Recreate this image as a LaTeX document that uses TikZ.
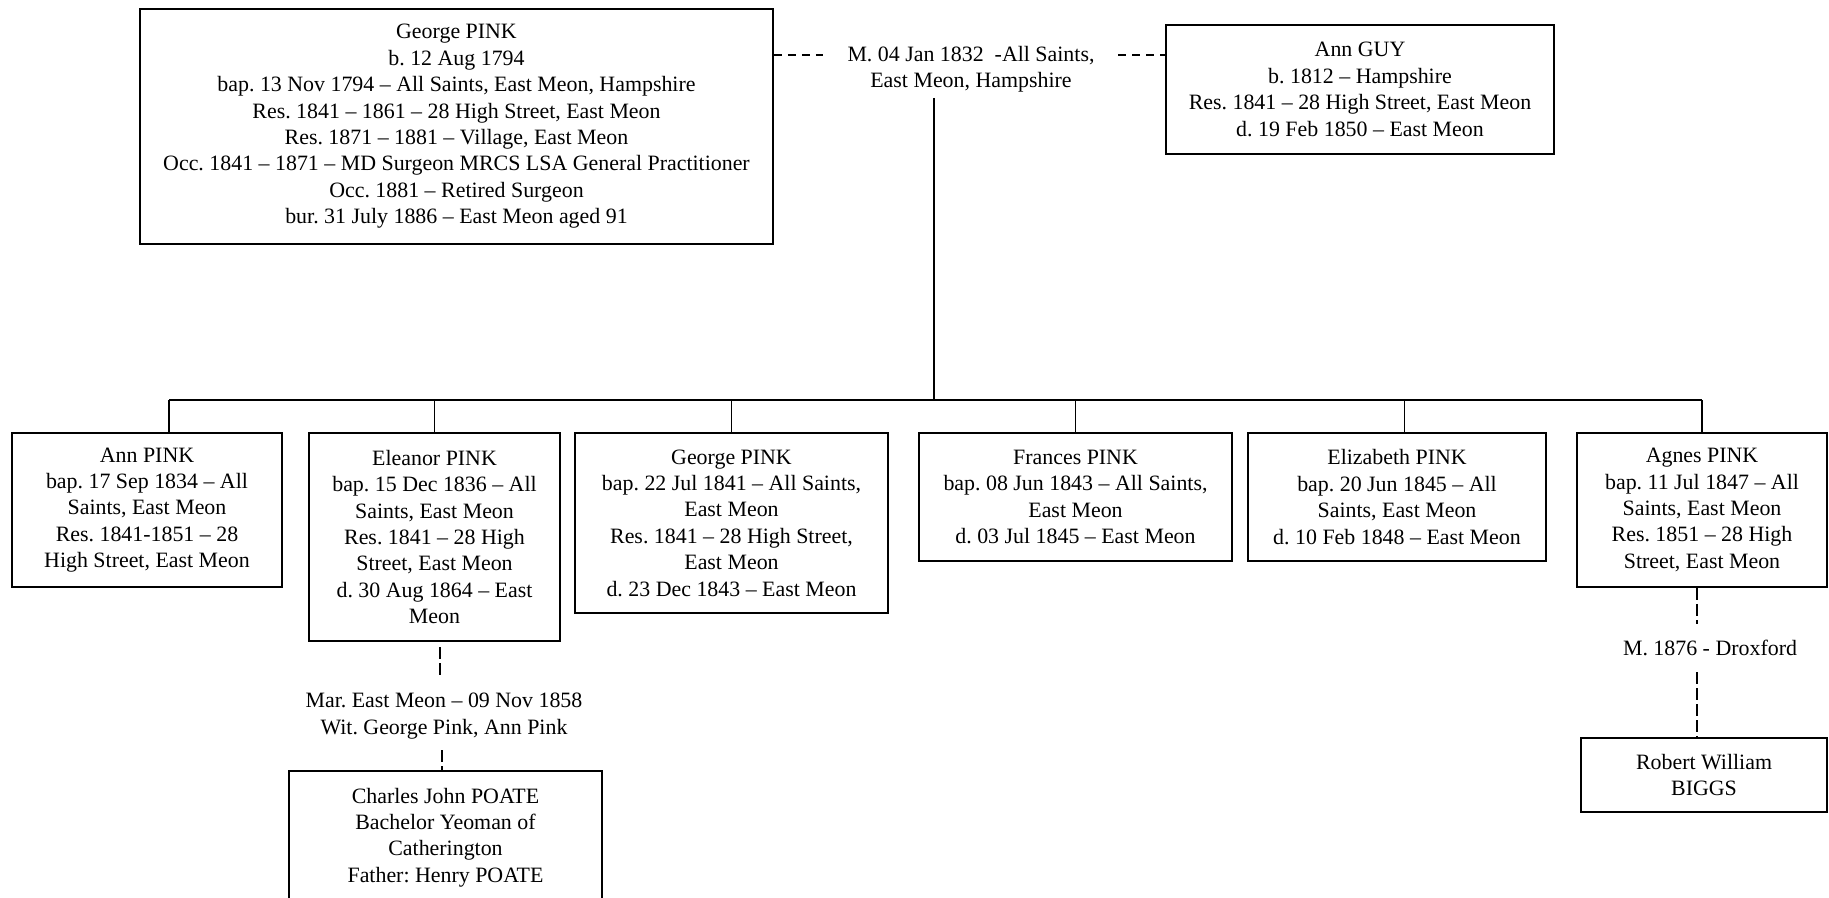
\documentclass[tikz,border=0pt]{standalone}
\usepackage{fontspec}
\setmainfont{Liberation Serif}
\frenchspacing
\newcommand{\treefont}{\fontsize{10.95}{13.2}\selectfont\frenchspacing}
\tikzset{
  person/.style={draw, line width=0.95pt, align=center, inner sep=0pt, font=\treefont},
  lbl/.style={align=center, inner sep=0pt, font=\treefont},
  conn/.style={line width=0.95pt},
  dconn/.style={line width=0.8pt, dash pattern=on 6pt off 2pt},
  hdconn/.style={line width=0.8pt, dash pattern=on 4pt off 3pt}
}
\begin{document}
\begin{tikzpicture}[x=0.5pt, y=-0.5pt]
\useasboundingbox (0,0) rectangle (1829,898);

% top generation
\node[person, minimum width=316.5pt, minimum height=117.5pt] (george) at (456.5,126.5)
 {George PINK\\b. 12 Aug 1794\\bap. 13 Nov 1794 – All Saints, East Meon, Hampshire\\Res. 1841 – 1861 – 28 High Street, East Meon\\Res. 1871 – 1881 – Village, East Meon\\Occ. 1841 – 1871 – MD Surgeon MRCS LSA General Practitioner\\Occ. 1881 – Retired Surgeon\\bur. 31 July 1886 – East Meon aged 91};
\node[person, minimum width=194pt, minimum height=64.25pt] (anngug) at (1360,89.5)
 {Ann GUY\\b. 1812 – Hampshire\\Res. 1841 – 28 High Street, East Meon\\d. 19 Feb 1850 – East Meon};
\node[lbl] (marr) at (971,69) {M. 04 Jan 1832~~-All Saints,\\East Meon, Hampshire};

% children
\node[person, minimum width=135pt, minimum height=77pt] (annpink) at (147,510)
 {Ann PINK\\bap. 17 Sep 1834 – All\\Saints, East Meon\\Res. 1841-1851 – 28\\High Street, East Meon};
\node[person, minimum width=125.5pt, minimum height=104pt] (eleanor) at (434.5,537)
 {Eleanor PINK\\bap. 15 Dec 1836 – All\\Saints, East Meon\\Res. 1841 – 28 High\\Street, East Meon\\d. 30 Aug 1864 – East\\Meon};
\node[person, minimum width=156.5pt, minimum height=90pt] (georgejr) at (731.5,523)
 {George PINK\\bap. 22 Jul 1841 – All Saints,\\East Meon\\Res. 1841 – 28 High Street,\\East Meon\\d. 23 Dec 1843 – East Meon};
\node[person, minimum width=156.5pt, minimum height=64pt] (frances) at (1075.5,497)
 {Frances PINK\\bap. 08 Jun 1843 – All Saints,\\East Meon\\d. 03 Jul 1845 – East Meon};
\node[person, minimum width=148.75pt, minimum height=64pt] (elizabeth) at (1397,497)
 {Elizabeth PINK\\bap. 20 Jun 1845 – All\\Saints, East Meon\\d. 10 Feb 1848 – East Meon};
\node[person, minimum width=125pt, minimum height=77pt] (agnes) at (1702,510)
 {Agnes PINK\\bap. 11 Jul 1847 – All\\Saints, East Meon\\Res. 1851 – 28 High\\Street, East Meon};

% spouses of children
\node[lbl] (mar2) at (444,716) {Mar. East Meon – 09 Nov 1858\\Wit. George Pink, Ann Pink};
\node[person, minimum width=156.5pt, minimum height=66.5pt] (charles) at (445.5,837.5)
 {Charles John POATE\\Bachelor Yeoman of\\Catherington\\Father: Henry POATE};
\node[lbl] (mar3) at (1710,648) {M. 1876 - Droxford};
\node[person, minimum width=123pt, minimum height=37pt] (robert) at (1704,775)
 {Robert William\\BIGGS};

% marriage line
\coordinate (mline) at (971,55);
\coordinate (mleft) at (823,55);
\coordinate (mright) at (1118,55);
\draw[hdconn] (george.east |- mline) -- (mleft);
\draw[hdconn] (mright) -- (anngug.west |- mline);

% descent
\coordinate (mbot) at (934,98);
\coordinate (busL) at (169,400);
\coordinate (busR) at (1702,400);
\coordinate (dE) at (1404.5,400);
\draw[conn] (mbot) -- (mbot |- busL);
\draw[conn] (busL) -- (busR);
\draw[conn] (busL) -- (busL |- annpink.north);
\draw[conn] (eleanor.north |- busL) -- (eleanor.north);
\draw[conn] (georgejr.north |- busL) -- (georgejr.north);
\draw[conn] (frances.north |- busL) -- (frances.north);
\draw[conn] (dE) -- (dE |- elizabeth.north);
\draw[conn] (busR) -- (agnes.north);

% Eleanor marriage
\coordinate (e1) at (440,647);
\coordinate (e2) at (440,675);
\coordinate (e3) at (442,750);
\draw[dconn] (e1) -- (e2);
\draw[dconn] (e3) -- (e3 |- charles.north);

% Agnes marriage
\coordinate (a1) at (1697,624);
\coordinate (a2) at (1697,672);
\draw[dconn] (a1 |- agnes.south) -- (a1);
\draw[dconn] (a2) -- (a2 |- robert.north);
\end{tikzpicture}
\end{document}
